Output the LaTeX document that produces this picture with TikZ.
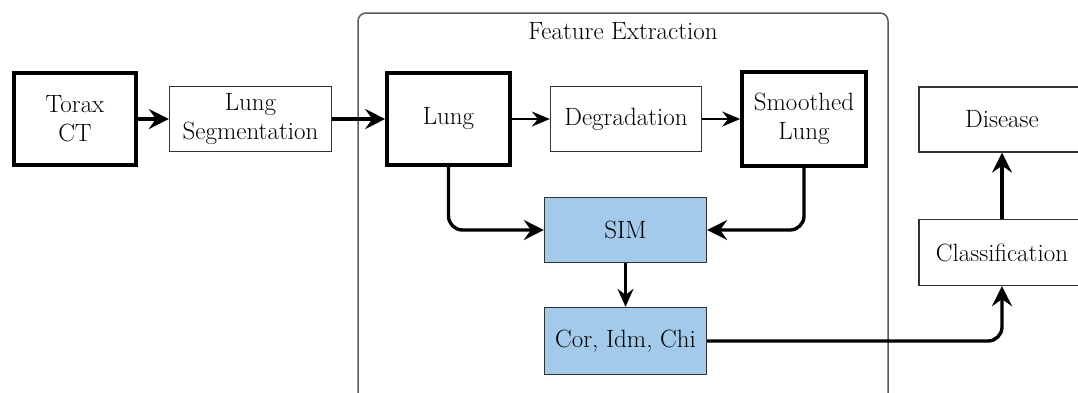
\documentclass[tikz,border=0pt]{standalone}
\usetikzlibrary{arrows.meta}
\definecolor{boxblue}{HTML}{A3C9EB}
\definecolor{framegray}{HTML}{5A5A5A}
\tikzset{
  x=1pt, y=-1pt,
  every node/.style={font=\fontsize{25}{29}\selectfont, align=center, inner sep=0pt},
  heavybox/.style={draw=black, line width=3.6pt, fill=white},
  lightbox/.style={draw=black!80, line width=1.3pt, fill=white},
  bluebox/.style={draw=black!80, line width=1.3pt, fill=boxblue},
  bigarrow/.style={draw=black, line width=3.4pt, rounded corners=14pt,
    -{Stealth[length=20pt, width=20pt, inset=7pt]}},
  midarrow/.style={draw=black, line width=2.4pt,
    -{Stealth[length=18pt, width=16pt, inset=6pt]}},
  smallarrow/.style={draw=black, line width=2.2pt,
    -{Stealth[length=18pt, width=15pt, inset=6pt]}},
}
\begin{document}
\begin{tikzpicture}
\path[fill=white] (0,0) rectangle (1078,392);
\useasboundingbox (0,0) rectangle (1078,392);
\begin{scope}
\clip (0,0) rectangle (1078,392);
% feature extraction frame
\draw[framegray, line width=1.5pt, rounded corners=8pt] (358,13) rectangle (888,430);
\node (title) at (623,31) {Feature Extraction};

\node[heavybox, minimum width=122pt, minimum height=92pt] (torax) at (75,119) {Torax\\CT};
\node[lightbox, minimum width=162pt, minimum height=65pt] (seg) at (250.5,119) {Lung\\Segmentation};
\node[heavybox, minimum width=123pt, minimum height=92pt] (lung) at (448.5,119) {Lung};
\node[lightbox, minimum width=151pt, minimum height=65pt] (deg) at (626,119) {Degradation};
\node[heavybox, minimum width=124pt, minimum height=94pt] (smooth) at (804,119) {Smoothed\\Lung};
\node[bluebox, minimum width=162pt, minimum height=65pt] (sim) at (625.5,230) {SIM};
\node[bluebox, minimum width=162pt, minimum height=67pt] (feat) at (625.5,341) {Cor, Idm, Chi};
\node[lightbox, minimum width=166pt, minimum height=65pt] (disease) at (1002,119.5) {Disease};
\node[lightbox, minimum width=166pt, minimum height=66pt] (cls) at (1002,252.5) {Classification};

\draw[bigarrow] (torax) -- (seg);
\draw[bigarrow] (seg) -- (lung);
\draw[smallarrow] (lung) -- (deg);
\draw[smallarrow] (deg) -- (smooth);
\draw[bigarrow] (lung.south) |- (sim.west);
\draw[bigarrow] (smooth.south) |- (sim.east);
\draw[midarrow] (sim) -- (feat);
\draw[bigarrow] (feat.east) -| (cls.south);
\draw[bigarrow] (cls) -- (disease);
\end{scope}
\end{tikzpicture}
\end{document}
